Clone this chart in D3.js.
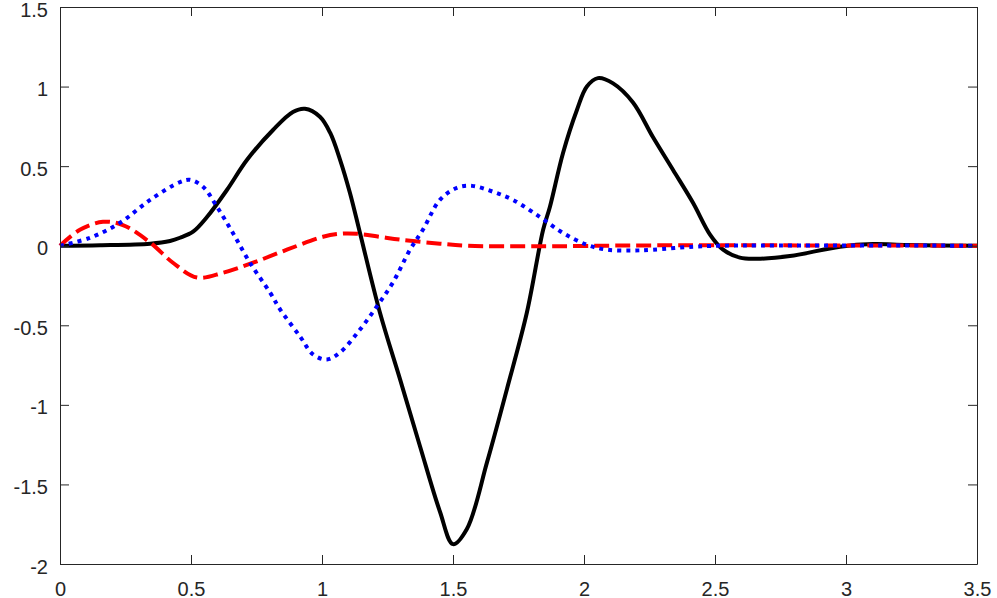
<!DOCTYPE html>
<html>
<head>
<meta charset="utf-8">
<script src="https://cdn.jsdelivr.net/npm/d3@7"></script>
<style>
html,body{margin:0;padding:0;background:#fff;}
svg{display:block;}
text{font-family:"Liberation Sans",Arial,Helvetica,sans-serif;}
</style>
</head>
<body>
<svg id="chart" width="997" height="598"></svg>
<script>
// ---- data ----
const xTicks = [0, 0.5, 1, 1.5, 2, 2.5, 3, 3.5];
const xTickLabels = ["0", "0.5", "1", "1.5", "2", "2.5", "3", "3.5"];
const yTicks = [-2, -1.5, -1, -0.5, 0, 0.5, 1, 1.5];
const yTickLabels = ["-2", "-1.5", "-1", "-0.5", "0", "0.5", "1", "1.5"];

const blackT = [0, 0.153, 0.344, 0.42, 0.458, 0.508, 0.561, 0.637, 0.714, 0.813, 0.889, 0.935, 0.992, 1.031, 1.069, 1.107, 1.145, 1.221, 1.298, 1.374, 1.45, 1.5, 1.553, 1.63, 1.706, 1.782, 1.844, 1.87, 1.92, 1.973, 2.011, 2.053, 2.111, 2.187, 2.263, 2.34, 2.416, 2.481, 2.531, 2.595, 2.66, 2.786, 2.977, 3.103, 3.233, 3.5];
const blackV = [0, 0.003, 0.013, 0.03, 0.05, 0.088, 0.18, 0.35, 0.54, 0.727, 0.84, 0.86, 0.81, 0.71, 0.54, 0.33, 0.08, -0.42, -0.84, -1.26, -1.67, -1.875, -1.78, -1.36, -0.9, -0.42, 0.1, 0.245, 0.583, 0.853, 1.0, 1.053, 1.02, 0.9, 0.683, 0.476, 0.27, 0.07, -0.025, -0.075, -0.082, -0.065, -0.006, 0.01, 0.004, 0];

const blueT = [0, 0.115, 0.229, 0.344, 0.458, 0.496, 0.546, 0.599, 0.66, 0.725, 0.802, 0.84, 0.916, 0.966, 1.019, 1.069, 1.145, 1.21, 1.271, 1.336, 1.385, 1.45, 1.515, 1.573, 1.653, 1.729, 1.832, 1.92, 2.011, 2.088, 2.187, 2.263, 2.416, 2.519, 3.5];
const blueV = [0, 0.05, 0.144, 0.288, 0.40, 0.414, 0.37, 0.245, 0.08, -0.107, -0.295, -0.40, -0.57, -0.683, -0.715, -0.67, -0.527, -0.38, -0.23, -0.025, 0.10, 0.288, 0.364, 0.376, 0.339, 0.288, 0.18, 0.08, 0.006, -0.025, -0.03, -0.025, -0.006, 0, 0];

const redT = [0, 0.076, 0.164, 0.24, 0.344, 0.431, 0.523, 0.622, 0.737, 0.866, 1.004, 1.069, 1.134, 1.221, 1.298, 1.45, 1.553, 1.805, 2.25, 3.5];
const redV = [0, 0.10, 0.15, 0.13, 0.02, -0.107, -0.2, -0.17, -0.107, -0.025, 0.056, 0.075, 0.075, 0.056, 0.038, 0.013, 0, -0.004, 0.002, 0];

// ---- layout ----
const svg = d3.select("#chart");
const mLeft = 60, mRight = 977, mTop = 7, mBottom = 564;
const x = d3.scaleLinear().domain([0, 3.5]).range([mLeft, mRight]);
const y = d3.scaleLinear().domain([-2, 1.5]).range([mBottom, mTop]);
const axisColor = "#262626";

const zip = (t, v) => t.map((d, i) => [d, v[i]]);
const line = d3.line().x(d => x(d[0])).y(d => y(d[1])).curve(d3.curveCatmullRom.alpha(0.5));

const plot = svg.append("g");
plot.append("path").datum(zip(blackT, blackV)).attr("d", line)
  .attr("fill", "none").attr("stroke", "#000").attr("stroke-width", 4).attr("stroke-linejoin", "round");
plot.append("path").datum(zip(redT, redV)).attr("d", line)
  .attr("fill", "none").attr("stroke", "#ff0000").attr("stroke-width", 4).attr("stroke-dasharray", "15,6");
plot.append("path").datum(zip(blueT, blueV)).attr("d", line)
  .attr("fill", "none").attr("stroke", "#0000ff").attr("stroke-width", 4).attr("stroke-dasharray", "4,5");

// ---- axes ----
const tickLen = 9;
const xAxisB = d3.axisBottom(x).tickValues(xTicks).tickFormat((d, i) => xTickLabels[i]).tickSizeInner(-tickLen).tickSizeOuter(0).tickPadding(20);
const xAxisT = d3.axisTop(x).tickValues(xTicks).tickFormat("").tickSizeInner(-tickLen).tickSizeOuter(0);
const yAxisL = d3.axisLeft(y).tickValues(yTicks).tickFormat((d, i) => yTickLabels[i]).tickSizeInner(-tickLen).tickSizeOuter(0).tickPadding(12);
const yAxisR = d3.axisRight(y).tickValues(yTicks).tickFormat("").tickSizeInner(-tickLen).tickSizeOuter(0);

function style(g) {
  g.selectAll("path.domain").attr("stroke", axisColor).attr("stroke-width", 1);
  g.selectAll(".tick line").attr("stroke", axisColor).attr("stroke-width", 1);
  g.selectAll(".tick text").attr("fill", axisColor).attr("font-size", 20)
    .attr("font-family", "'Liberation Sans', Arial, Helvetica, sans-serif");
}
const gB = svg.append("g").attr("transform", `translate(0,${mBottom})`).call(xAxisB).call(style);
gB.selectAll(".tick text").attr("dy", null).attr("y", 32);
svg.append("g").attr("transform", `translate(0,${mTop})`).call(xAxisT).call(style);
const gL = svg.append("g").attr("transform", `translate(${mLeft},0)`).call(yAxisL).call(style);
gL.selectAll(".tick text").attr("dy", "0.45em").attr("x", -12);
svg.append("g").attr("transform", `translate(${mRight},0)`).call(yAxisR).call(style);
</script>
</body>
</html>
